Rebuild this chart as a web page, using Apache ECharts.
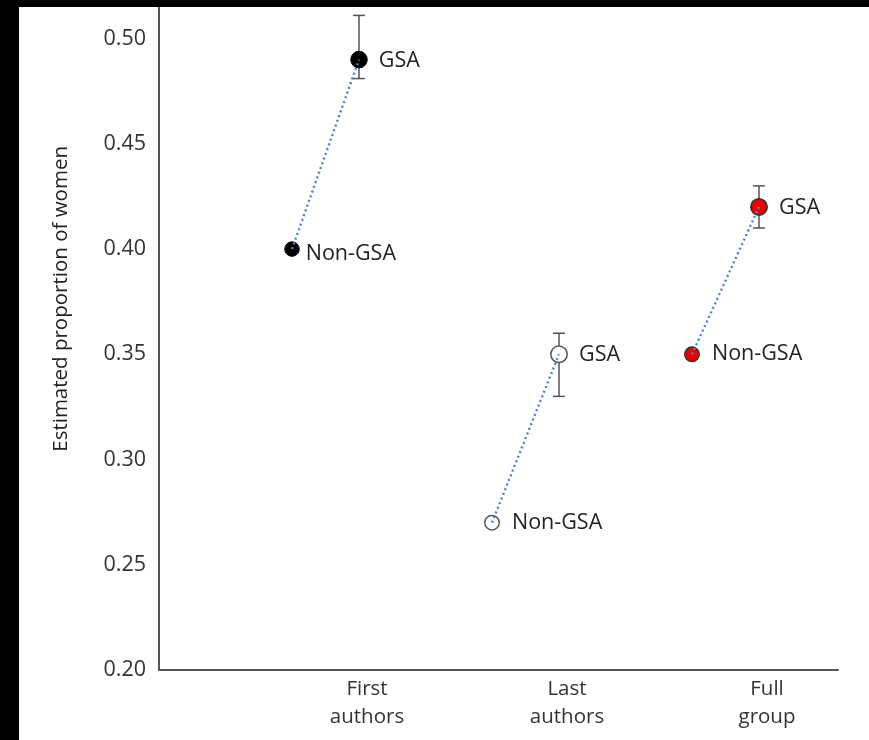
<!DOCTYPE html>
<html>
<head>
<meta charset="utf-8">
<script src="https://cdn.jsdelivr.net/npm/echarts@6/dist/echarts.min.js"></script>
<style>
  html, body { margin: 0; padding: 0; width: 869px; height: 740px; background: #000; overflow: hidden; }
  #chart { position: absolute; left: 19px; top: 7px; width: 850px; height: 733px; background: #fff; }
</style>
</head>
<body>
<div id="chart"></div>
<script>
// Author groups along the x axis
const categories = ['First\nauthors', 'Last\nauthors', 'Full\ngroup'];
// Estimated proportion of women per group
const nonGsa = [0.40, 0.27, 0.35];
const gsa = [0.49, 0.35, 0.42];
// Interval bounds for the GSA estimates
const gsaLow = [0.481, 0.33, 0.41];
const gsaHigh = [0.511, 0.36, 0.43];
// Point labels
const nonGsaLabel = 'Non-GSA';
const gsaLabel = 'GSA';

const FONT = '"Open Sans", "Noto Sans", sans-serif';
const NON_GSA_SHIFT = -0.335;   // horizontal offset of the Non-GSA point within a group
const LABEL_SHIFT = 0.04;       // group label offset from the GSA point

// Marker style per group
const markerStyles = [
  { color: '#000000', borderColor: '#000000', borderWidth: 1 },
  { color: '#ffffff', borderColor: '#555555', borderWidth: 1.5 },
  { color: '#ee0000', borderColor: '#333333', borderWidth: 1.5 }
];

const chart = echarts.init(document.getElementById('chart'), null, { renderer: 'canvas' });

const series = [];

// Error bars (GSA)
series.push({
  type: 'custom',
  z: 2,
  silent: true,
  data: gsa.map((v, i) => [i + 1, gsaLow[i], gsaHigh[i]]),
  renderItem: function (params, api) {
    const x = api.value(0);
    const lo = api.coord([x, api.value(1)]);
    const hi = api.coord([x, api.value(2)]);
    const cap = 6;
    const style = { stroke: '#555555', lineWidth: 1.5, fill: null };
    return {
      type: 'group',
      children: [
        { type: 'line', shape: { x1: lo[0], y1: lo[1], x2: hi[0], y2: hi[1] }, style: style },
        { type: 'line', shape: { x1: lo[0] - cap, y1: lo[1], x2: lo[0] + cap, y2: lo[1] }, style: style },
        { type: 'line', shape: { x1: hi[0] - cap, y1: hi[1], x2: hi[0] + cap, y2: hi[1] }, style: style }
      ]
    };
  }
});

// Markers, one scatter per group
categories.forEach((c, i) => {
  series.push({
    type: 'scatter',
    z: 3,
    silent: true,
    itemStyle: Object.assign({ opacity: 1 }, markerStyles[i]),
    data: [
      {
        value: [i + 1 + NON_GSA_SHIFT, nonGsa[i]],
        symbolSize: 14.5,
        label: {
          show: true,
          formatter: nonGsaLabel,
          position: 'right',
          distance: i === 0 ? 6 : 12,
          offset: i === 0 ? [0, 5] : [0, 0]
        }
      },
      {
        value: [i + 1, gsa[i]],
        symbolSize: 16.5,
        label: { show: true, formatter: gsaLabel, position: 'right', distance: 11, offset: [0, 1] }
      }
    ],
    label: { color: '#222222', fontSize: 21.5, fontFamily: FONT }
  });
});

// Dotted connectors drawn above the markers
categories.forEach((c, i) => {
  series.push({
    type: 'line',
    z: 4,
    silent: true,
    symbol: 'none',
    lineStyle: { color: '#4f7fd0', width: 2.4, type: [2, 3] },
    data: [[i + 1 + NON_GSA_SHIFT, nonGsa[i]], [i + 1, gsa[i]]]
  });
});

const labelPositions = categories.map((c, i) => i + 1 + LABEL_SHIFT);

chart.setOption({
  animation: false,
  backgroundColor: '#ffffff',
  grid: { left: 140, right: 31, top: 0, bottom: 70, containLabel: false },
  xAxis: {
    type: 'value',
    min: 0,
    max: 3.395,
    splitLine: { show: false },
    axisTick: { show: false },
    axisLine: { show: true, onZero: false, lineStyle: { color: '#555555', width: 2 } },
    axisLabel: {
      show: true,
      customValues: labelPositions,
      formatter: function (v) {
        let best = 0;
        labelPositions.forEach((p, k) => { if (Math.abs(p - v) < Math.abs(labelPositions[best] - v)) best = k; });
        return categories[best];
      },
      color: '#333333',
      fontSize: 20.5,
      fontFamily: FONT,
      lineHeight: 28,
      margin: 5,
      align: 'center'
    }
  },
  yAxis: {
    type: 'value',
    min: 0.20,
    max: 0.515,
    interval: 0.05,
    splitLine: { show: false },
    axisTick: { show: false },
    axisLine: { show: true, lineStyle: { color: '#555555', width: 2 } },
    axisLabel: {
      showMaxLabel: false,
      formatter: v => v.toFixed(2),
      color: '#333333',
      fontSize: 21.5,
      fontFamily: FONT,
      margin: 13
    }
  },
  graphic: [{
    type: 'text',
    left: 32,
    top: 139,
    rotation: Math.PI / 2,
    style: {
      text: 'Estimated proportion of women',
      fill: '#222222',
      fontSize: 20.5,
      fontFamily: FONT,
      align: 'center',
      verticalAlign: 'middle'
    }
  }],
  series: series
});
</script>
</body>
</html>
